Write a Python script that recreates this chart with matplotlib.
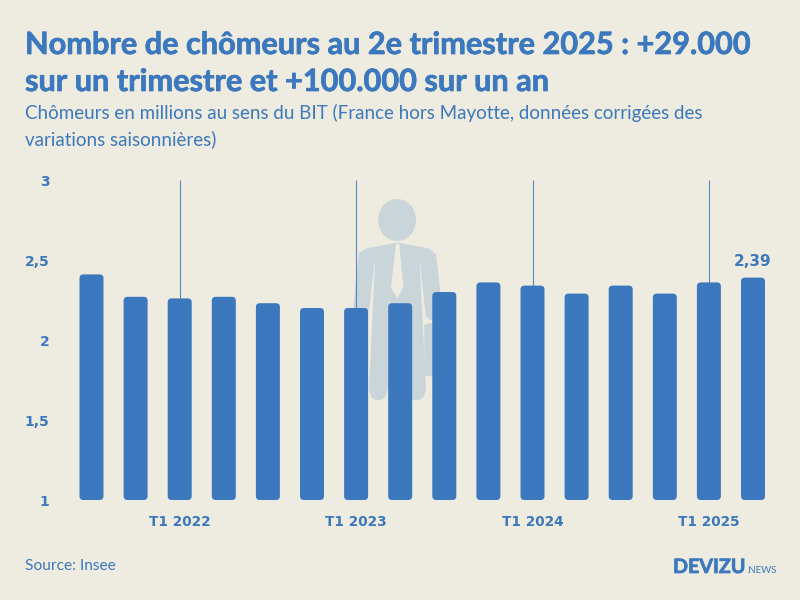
import matplotlib

matplotlib.use("Agg")
import matplotlib.patheffects as pe
import matplotlib.pyplot as plt
from matplotlib.patches import Ellipse, FancyBboxPatch, Polygon

BG = "#eeebe0"
BLUE = "#3b78bd"
MAN = "#cad5da"

values = [2.41, 2.27, 2.26, 2.27, 2.23, 2.20, 2.20, 2.23, 2.30, 2.36, 2.34, 2.29, 2.34, 2.29, 2.36, 2.39]
year_idx = [2, 6, 10, 14]
year_labels = ["T1 2022", "T1 2023", "T1 2024", "T1 2025"]
y_ticks = [1, 1.5, 2, 2.5, 3]
y_labels = ["1", "1,5", "2", "2,5", "3"]

title_lines = ["Nombre de chômeurs au 2e trimestre 2025 : +29.000", "sur un trimestre et +100.000 sur un an"]
sub_lines = ["Chômeurs en millions au sens du BIT (France hors Mayotte, données corrigées des", "variations saisonnières)"]

# silhouette outline (zoomed crop coords, see zx/zy)
body = [(60, 250), (80, 238), (165, 222), (180, 222), (265, 238), (285, 255), (298, 365), (300, 440),
        (272, 447), (260, 435), (243, 278), (236, 278), (255, 660), (205, 660), (172, 420),
        (140, 660), (90, 660), (108, 278), (100, 278), (85, 415), (70, 445), (40, 440)]
tie = [(168, 222), (178, 222), (190, 352), (172, 385), (153, 352)]
case = [(255, 465), (280, 460), (280, 618), (255, 615)]


def zx(v):
    return 340 + v / 3


def zy(v):
    return 170 + v / 3


plt.rcParams["font.family"] = "Lato"

fig = plt.figure(figsize=(8, 6), dpi=100, facecolor=BG)

# pixel overlay for the figure behind the bars
bg = fig.add_axes([0, 0, 1, 1], zorder=0)
bg.set_xlim(0, 800)
bg.set_ylim(600, 0)
bg.axis("off")
bg.add_patch(Ellipse((397, 220), 38, 42, color=MAN, lw=0))
bg.add_patch(Polygon([(zx(a), zy(b)) for a, b in body], closed=True, fc=MAN, ec=MAN, lw=1.5, joinstyle="round"))
bg.add_patch(Ellipse((zx(115), zy(664)), 17, 18, color=MAN, lw=0))
bg.add_patch(Ellipse((zx(230), zy(664)), 17, 18, color=MAN, lw=0))
bg.add_patch(Polygon([(zx(a), zy(b)) for a, b in case], closed=True, fc=MAN, ec=MAN, lw=1, joinstyle="round"))
bg.add_patch(Polygon([(zx(a), zy(b)) for a, b in tie], closed=True, fc=BG, lw=0))

ax = fig.add_axes([69.45 / 800, 100 / 600, 705.6 / 800, 320 / 600], zorder=1)
ax.patch.set_alpha(0)
ax.set_xlim(-0.5, 15.5)
ax.set_ylim(1, 3)

px_x = 44.1
px_y = 160
w = 24 / px_x
for i, v in enumerate(values):
    ax.add_patch(FancyBboxPatch((i - w / 2, 1), w, v - 1,
                                boxstyle=f"round,pad=0,rounding_size={4 / px_x}",
                                mutation_aspect=px_x / px_y, fc=BLUE, ec="none", zorder=3, clip_on=False))

ax.vlines(year_idx, [values[i] for i in year_idx], 3, color=BLUE, lw=0.8, alpha=0.85, zorder=2)

for s in ax.spines.values():
    s.set_visible(False)
ax.set_xticks(year_idx)
ax.set_xticklabels(year_labels, fontfamily="DejaVu Sans", fontweight="bold", fontsize=9.8, color=BLUE)
ax.set_yticks(y_ticks)
ax.set_yticklabels(y_labels, fontfamily="DejaVu Sans", fontweight="bold", fontsize=10, color=BLUE)
ax.tick_params(length=0)
ax.tick_params(axis="x", pad=11)
ax.tick_params(axis="y", pad=14.5)

ax.annotate("2,39", (15, values[15]), xytext=(0, 6.5), textcoords="offset points", ha="center", va="bottom",
            fontfamily="DejaVu Sans", fontweight="bold", fontsize=11, color=BLUE)

# the reference title is a bit heavier than Lato Bold
thick = [pe.withStroke(linewidth=0.5, foreground=BLUE)]
fig.text(25 / 800, 1 - 54 / 600, title_lines[0], fontsize=22.1, fontweight="bold", color=BLUE, path_effects=thick)
fig.text(25 / 800, 1 - 91 / 600, title_lines[1], fontsize=22.1, fontweight="bold", color=BLUE, path_effects=thick)
fig.text(25 / 800, 1 - 119 / 600, sub_lines[0], fontsize=13.5, color=BLUE)
fig.text(25 / 800, 1 - 145 / 600, sub_lines[1], fontsize=13.5, color=BLUE)
fig.text(25 / 800, 1 - 570 / 600, "Source: Insee", fontsize=11.2, color=BLUE)
fig.text(673 / 800, 1 - 573 / 600, "DEVIZU", fontsize=14.2, fontweight="bold", color=BLUE, path_effects=thick)
fig.text(746 / 800, 1 - 573 / 600, ".NEWS", fontsize=7, color=BLUE)

fig.savefig("out.png", dpi=100, facecolor=BG)
